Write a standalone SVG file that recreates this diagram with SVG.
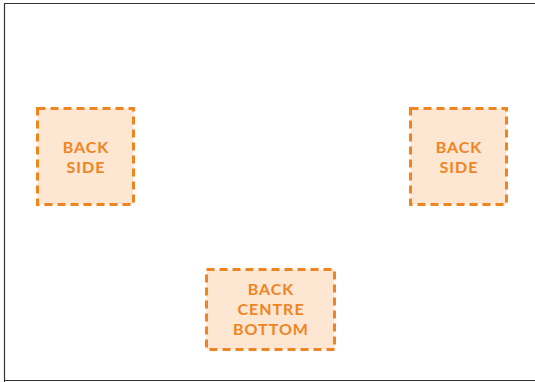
<svg xmlns="http://www.w3.org/2000/svg" width="535" height="382" viewBox="0 0 535 382">
<style>
.box{fill:#fde6d2;stroke:#f0841e;stroke-width:3;stroke-dasharray:8 5}
.lbl{font-family:Lato,"Liberation Sans",sans-serif;font-weight:bold;font-size:16px;fill:#f0841e;text-anchor:middle;letter-spacing:1px}
.frame{fill:none;stroke:#333;stroke-width:1.2}
</style>
<rect width="535" height="382" fill="#fff"/>
<path class="frame" d="M4.5,382 V3.5 H535 M4.5,380.5 H535"/>
<g id="back-side-left">
<rect class="box" x="37.5" y="108.5" width="96" height="96"/>
<text class="lbl" x="86" y="153.3">BACK</text>
<text class="lbl" x="86" y="172.7">SIDE</text>
</g>
<g id="back-side-right">
<rect class="box" x="410.5" y="108.5" width="96" height="96"/>
<text class="lbl" x="459" y="153.3">BACK</text>
<text class="lbl" x="459" y="172.7">SIDE</text>
</g>
<g id="back-centre-bottom">
<rect class="box" x="206.5" y="269.5" width="128" height="80"/>
<text class="lbl" x="271" y="295.3">BACK</text>
<text class="lbl" x="271" y="315">CENTRE</text>
<text class="lbl" x="271" y="334.6">BOTTOM</text>
</g>
<g id="connectors"/>
</svg>
